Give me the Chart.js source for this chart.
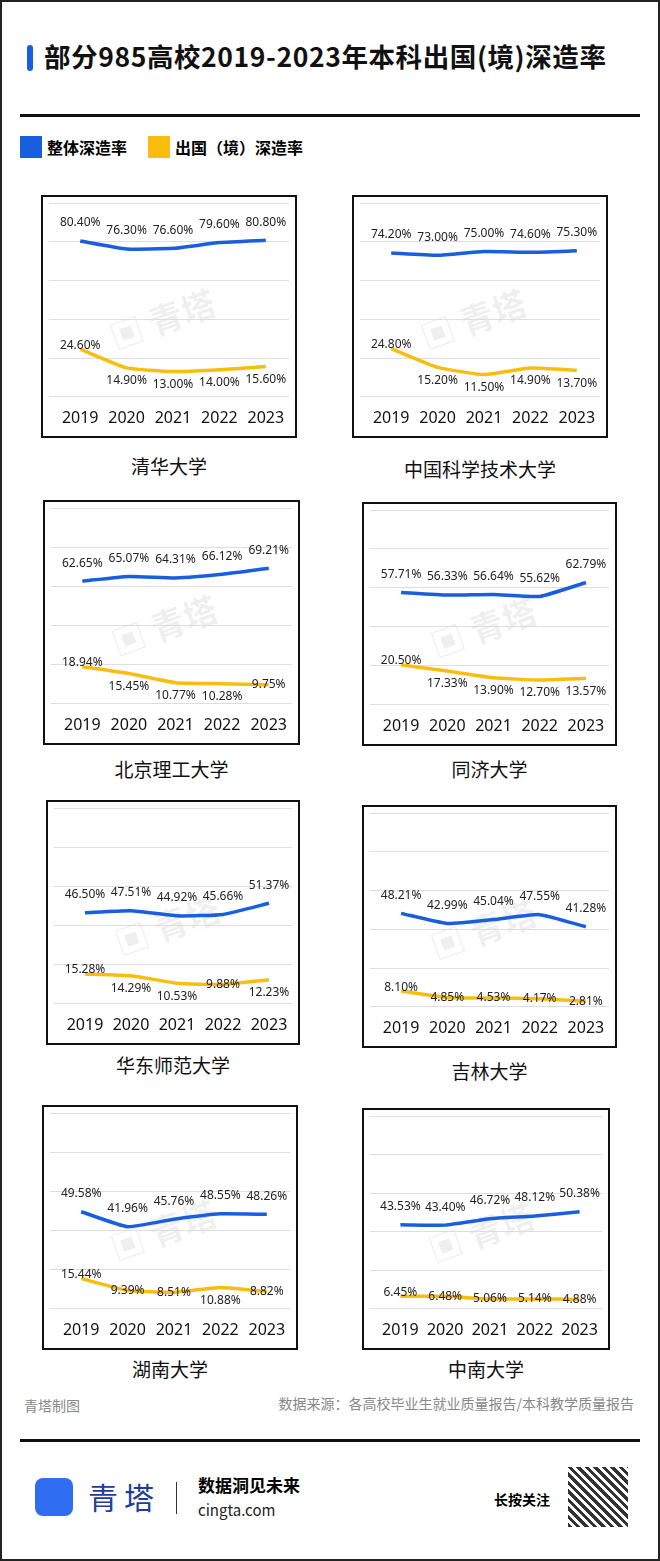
<!DOCTYPE html>
<html><head><meta charset="utf-8">
<script src="https://cdn.jsdelivr.net/npm/chart.js@4/dist/chart.umd.min.js"></script>
<style>
body{margin:0;width:660px;height:1561px;background:#fff;font-family:"Noto Sans CJK SC","Noto Sans",sans-serif;position:relative;overflow:hidden}
.frame{position:absolute;left:0;top:0;width:656px;height:1557px;border:2px solid #222}
.abs{position:absolute}
.panel{position:absolute;border:2px solid #111;background:#fff}
.panel canvas{position:absolute;left:0;top:0}
.name{position:absolute;font-size:19px;color:#111;text-align:center;width:260px}
.wm{position:absolute;color:rgba(0,0,0,0.07);font-size:34px;transform:rotate(-20deg);font-weight:bold}
</style></head><body>
<div class="frame"></div>
<div class="abs" style="left:27px;top:45px;width:6px;height:26px;background:#1a5ee0;border-radius:3px"></div>
<div class="abs" style="left:44px;top:36px;font-size:26.5px;font-weight:bold;color:#111;letter-spacing:0.6px">部分985高校2019-2023年本科出国(境)深造率</div>
<div class="abs" style="left:20px;top:114px;width:620px;height:3px;background:#111"></div>
<div class="abs" style="left:20px;top:136px;width:22px;height:22px;background:#1a5ee0"></div>
<div class="abs" style="left:47px;top:135px;font-size:16px;font-weight:bold">整体深造率</div>
<div class="abs" style="left:148px;top:136px;width:22px;height:22px;background:#f9bd0f"></div>
<div class="abs" style="left:175px;top:135px;font-size:16px;font-weight:bold">出国（境）深造率</div>
<div id="charts"></div>
<div class="abs" style="left:24px;top:1395px;font-size:14px;color:#888">青塔制图</div>
<div class="abs" style="right:26px;top:1393px;font-size:14px;color:#888">数据来源：各高校毕业生就业质量报告/本科教学质量报告</div>
<div class="abs" style="left:20px;top:1439px;width:620px;height:3px;background:#111"></div>
<div class="abs" style="left:35px;top:1478px;width:38px;height:38px;background:#2f6ef2;border-radius:8px"></div>
<div class="abs" style="left:88px;top:1474px;font-size:30px;color:#1d3f9a;letter-spacing:6px">青塔</div>
<div class="abs" style="left:176px;top:1482px;width:1px;height:32px;background:#333"></div>
<div class="abs" style="left:198px;top:1472px;font-size:17px;font-weight:bold">数据洞见未来</div>
<div class="abs" style="left:198px;top:1499px;font-size:15px;color:#222">cingta.com</div>
<div class="abs" style="left:494px;top:1489px;font-size:14px;font-weight:bold">长按关注</div>
<div class="abs" style="left:568px;top:1467px;width:60px;height:60px;background:repeating-linear-gradient(45deg,#333 0 3px,#fff 3px 6px)"></div>
<script>
const years = ["2019","2020","2021","2022","2023"];
const schools = ["清华大学","中国科学技术大学","北京理工大学","同济大学","华东师范大学","吉林大学","湖南大学","中南大学"];
const overallRate = [
  [80.4,76.3,76.6,79.6,80.8],
  [74.2,73.0,75.0,74.6,75.3],
  [62.65,65.07,64.31,66.12,69.21],
  [57.71,56.33,56.64,55.62,62.79],
  [46.5,47.51,44.92,45.66,51.37],
  [48.21,42.99,45.04,47.55,41.28],
  [49.58,41.96,45.76,48.55,48.26],
  [43.53,43.4,46.72,48.12,50.38]
];
const abroadRate = [
  [24.6,14.9,13.0,14.0,15.6],
  [24.8,15.2,11.5,14.9,13.7],
  [18.94,15.45,10.77,10.28,9.75],
  [20.5,17.33,13.9,12.7,13.57],
  [15.28,14.29,10.53,9.88,12.23],
  [8.1,4.85,4.53,4.17,2.81],
  [15.44,9.39,8.51,10.88,8.82],
  [6.45,6.48,5.06,5.14,4.88]
];
// panel boxes: left, top, width, height, title top
const boxes = [
  [41,195,256,243,452],[352,195,256,243,455],
  [43,500,257,245,755],[362,502,255,244,755],
  [46,800,254,245,1051],[362,805,255,243,1057],
  [42,1105,256,245,1355],[362,1108,248,242,1355]
];

const valueLabels = {
  id:"valueLabels",
  afterDatasetsDraw(chart){
    const ctx = chart.ctx;
    ctx.save();
    ctx.font = "12px 'Noto Sans','DejaVu Sans',sans-serif";
    ctx.fillStyle = "#222";
    ctx.textAlign = "center";
    ctx.textBaseline = "middle";
    chart.data.datasets.forEach((ds,di) => {
      chart.getDatasetMeta(di).data.forEach((pt,i) => {
        const v = ds.data[i];
        let dy = di === 0 ? -18 : (v < 10 ? 0 : 13);
        if(di === 1 && i === 0) dy = -4;
        ctx.fillText(v.toFixed(2)+"%", pt.x, pt.y+dy);
      });
    });
    ctx.restore();
  }
};

const holder = document.getElementById("charts");
schools.forEach((name,k) => {
  const [l,t,w,h,nt] = boxes[k];
  const p = document.createElement("div");
  p.className = "panel";
  p.style.cssText = `left:${l}px;top:${t}px;width:${w-4}px;height:${h-4}px`;
  const wm = document.createElement("div");
  wm.className = "wm"; wm.textContent = "▣ 青塔";
  wm.style.cssText = `left:${w*0.25}px;top:${h*0.4}px`;
  p.appendChild(wm);
  const c = document.createElement("canvas");
  c.width = w-4; c.height = h-4;
  c.style.width = (w-4)+"px"; c.style.height = (h-4)+"px";
  p.appendChild(c);
  holder.appendChild(p);
  const n = document.createElement("div");
  n.className = "name"; n.textContent = name;
  n.style.cssText = `left:${l+w/2-130}px;top:${nt}px`;
  holder.appendChild(n);

  new Chart(c,{
    type:"line",
    data:{
      labels: years,
      datasets:[
        {data: overallRate[k], borderColor:"#1a5ee0", borderWidth:3.5, pointRadius:0, tension:0.15},
        {data: abroadRate[k], borderColor:"#f9bd0f", borderWidth:3.5, pointRadius:0, tension:0.15}
      ]
    },
    options:{
      responsive:false, animation:false,
      layout:{padding:{left:6,right:6,top:6,bottom:4}},
      plugins:{legend:{display:false}, tooltip:{enabled:false}},
      scales:{
        x:{offset:true, grid:{display:false}, border:{display:false},
           ticks:{color:"#111", font:{size:16, family:"Noto Sans"}, padding:4}},
        y:{min:0, max:100, grid:{color:"#ddd"}, border:{display:false},
           ticks:{display:false, stepSize:20}}
      }
    },
    plugins:[valueLabels]
  });
});
</script>
</body></html>
